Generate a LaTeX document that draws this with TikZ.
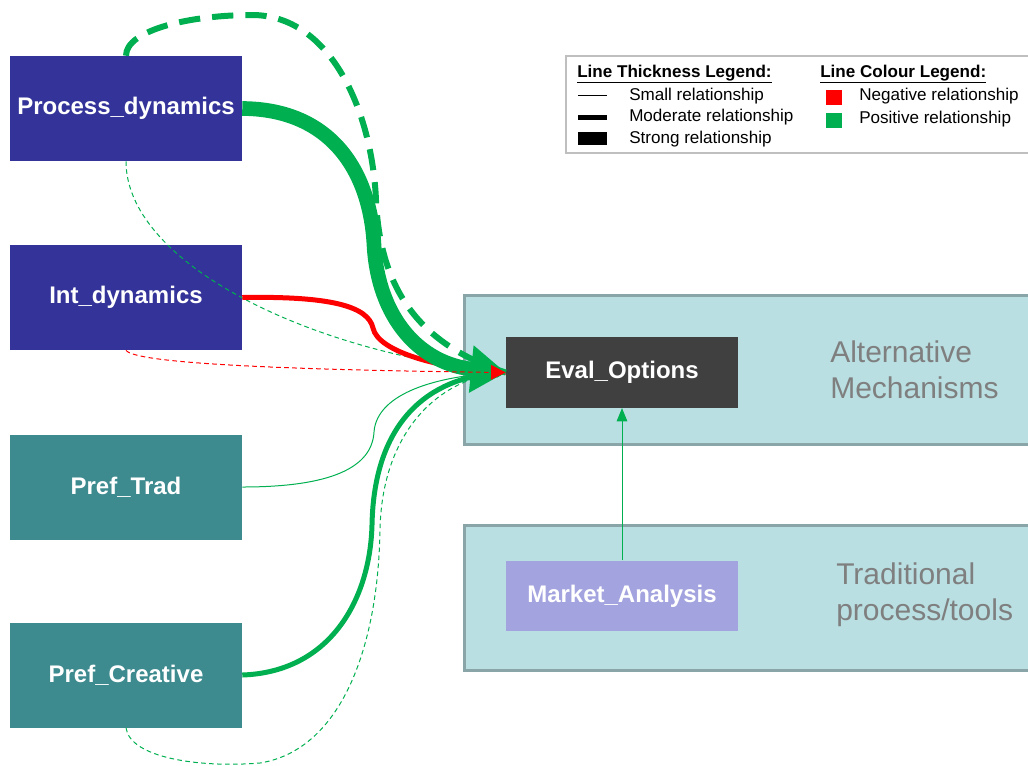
\documentclass[tikz,border=0pt]{standalone}
\usepackage{fontspec}
\setmainfont{Liberation Sans}
\usetikzlibrary{arrows.meta}

\definecolor{navybox}{HTML}{333399}
\definecolor{tealbox}{HTML}{3D8A8F}
\definecolor{darkbox}{HTML}{404040}
\definecolor{lavbox}{HTML}{A3A3DF}
\definecolor{grpfill}{HTML}{B9DFE2}
\definecolor{grpline}{HTML}{8AA5A8}
\definecolor{posgreen}{HTML}{00B050}
\definecolor{negred}{HTML}{FF0000}
\definecolor{grouptext}{HTML}{7F7F7F}
\definecolor{legline}{HTML}{BFBFBF}

\tikzset{
  varbox/.style={rectangle, inner sep=0pt, minimum width=174pt, minimum height=78.75pt,
    text=white, font=\fontsize{18}{21.6}\selectfont\bfseries},
  smallbox/.style={varbox, minimum height=53pt},
  groupbox/.style={fill=grpfill, draw=grpline, line width=2.25pt},
  grouplabel/.style={anchor=west, align=left, text=grouptext, inner sep=0pt,
    font=\fontsize{22.5}{27}\selectfont},
  legtext/.style={anchor=west, inner sep=0pt, font=\fontsize{12.8}{15}\selectfont},
  leghead/.style={legtext, font=\fontsize{12.8}{15}\selectfont\bfseries},
  strongrel/.style={draw=posgreen, line width=11pt, -{Triangle[length=26pt,width=34pt]}},
  dashrel/.style={draw=posgreen, line width=4.5pt, dash pattern=on 16pt off 9pt},
  modrel/.style={line width=3.75pt},
  thinrel/.style={line width=0.75pt},
  thindash/.style={line width=0.75pt, dash pattern=on 3.5pt off 2.5pt},
  smalltip/.style={-{Triangle[length=7pt,width=6pt]}}
}

\begin{document}
\begin{tikzpicture}[x=0.75pt, y=-0.75pt]
\useasboundingbox (0,0) rectangle (1028,765);
\clip (0,0) rectangle (1028,765);

% grouping panels
\draw[groupbox] (464,295) rectangle (1045,444);
\draw[groupbox] (464,525) rectangle (1045,670);
\node[grouplabel] (altlbl) at (830,370) {Alternative\\Mechanisms};
\node[grouplabel] (tradlbl) at (836,595) {Traditional\\process/tools};

% legend
\draw[draw=legline, line width=1.5pt, fill=white] (566,56) rectangle (1045,153);
\node[leghead] (thkhead) at (577,74) {\underline{Line Thickness Legend:}};
\node[leghead] (colhead) at (820,74) {\underline{Line Colour Legend:}};
\draw[line width=0.75pt] (578,95) -- (607,95);
\draw[line width=3.75pt] (578,117) -- (607,117);
\fill (578,132) rectangle (607,145);
\node[legtext] (smalltxt) at (629,96) {Small relationship};
\node[legtext] (modtxt) at (629,117) {Moderate relationship};
\node[legtext] (strongtxt) at (629,139) {Strong relationship};
\fill[negred] (826,90) rectangle (842,105);
\fill[posgreen] (826,113) rectangle (842,128);
\node[legtext] (negtxt) at (859,96) {Negative relationship};
\node[legtext] (postxt) at (859,119) {Positive relationship};

% variables
\node[varbox, fill=navybox] (pd) at (126,108.5) {Process\_dynamics};
\node[varbox, fill=navybox] (id) at (126,297.5) {Int\_dynamics};
\node[varbox, fill=tealbox] (pt) at (126,487) {Pref\_Trad};
\node[varbox, fill=tealbox] (pc) at (126,675) {Pref\_Creative};
\node[smallbox, fill=darkbox] (eo) at (622,372.5) {Eval\_Options};
\node[smallbox, fill=lavbox] (ma) at (622,596) {Market\_Analysis};

% relationships into Eval_Options
\draw[thindash, posgreen, smalltip] (pd.south) .. controls (126,260) and (300,350) .. (eo.west);
\draw[thinrel, posgreen, smalltip] (pt.east) .. controls (330,487) and (372,468) .. (374,432)
  .. controls (377,392) and (440,376) .. (eo.west);
\draw[thindash, posgreen, smalltip] (pc.south) .. controls (130,758) and (200,768) .. (260,763)
  .. controls (340,750) and (378,650) .. (380,530) .. controls (382,430) and (440,380) .. (eo.west);
\draw[modrel, posgreen, smalltip] (pc.east) .. controls (330,672) and (370,600) .. (372,525)
  .. controls (374,420) and (430,378) .. (eo.west);
\draw[modrel, negred] (id.east) .. controls (330,296) and (368,306) .. (373,328)
  .. controls (378,352) and (440,369) .. (eo.west);
\draw[strongrel] (pd.east) .. controls (330,109) and (370,170) .. (374,245)
  .. controls (378,318) and (420,364) .. (eo.west);
\draw[dashrel] (pd.north) .. controls (126,30) and (190,15) .. (252,15)
  .. controls (330,15) and (372,110) .. (376,200) .. controls (380,290) and (420,345) .. (eo.west);
\draw[thindash, negred, -{Triangle[length=11pt,width=11pt]}] (id.south) .. controls (135,364) and (300,370) .. (eo.west);

% traditional tool feeding the evaluation
\draw[thinrel, posgreen, -{Triangle[length=10pt,width=8pt]}] (ma.north) -- (eo.south);
\end{tikzpicture}
\end{document}
